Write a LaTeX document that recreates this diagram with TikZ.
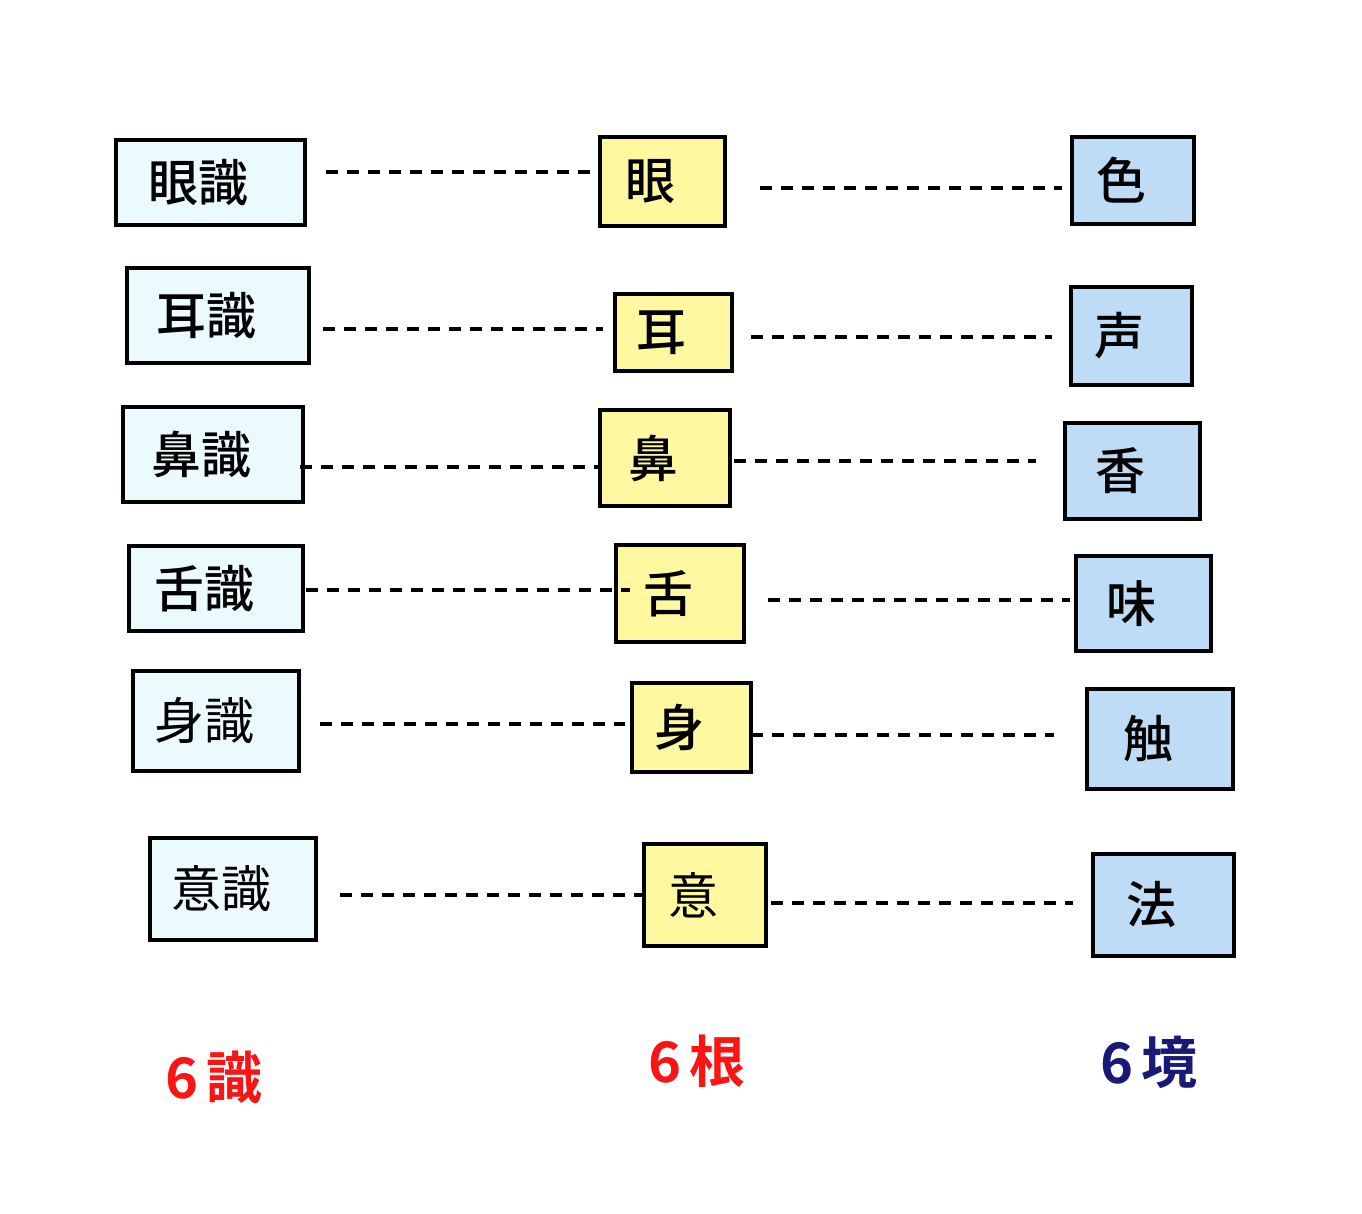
\documentclass[tikz,border=0pt]{standalone}
\usepackage{fontspec}
\setmainfont{Noto Sans CJK JP}[BoldFont={Noto Sans CJK JP Medium}]
\newfontfamily\totalfont{Noto Sans CJK JP Bold}
\definecolor{shikifill}{RGB}{235,250,252}
\definecolor{konfill}{RGB}{255,248,160}
\definecolor{kyofill}{RGB}{190,220,245}
\definecolor{myred}{RGB}{250,20,20}
\definecolor{mynavy}{RGB}{25,25,120}
\newcommand{\boxfont}{\fontsize{25pt}{25pt}\selectfont}
\tikzset{
    box/.style={draw, line width=1.8pt, inner sep=0pt, font=\boxfont\bfseries,
        execute at begin node={\kern-12pt}},
    sz/.style 2 args={minimum width=#1*0.5pt, minimum height=#2*0.5pt},
    shiki/.style={box, fill=shikifill},
    kon/.style={box, fill=konfill},
    kyo/.style={box, fill=kyofill},
    light/.style={font=\boxfont\mdseries},
    link/.style={line width=2pt, dash pattern=on 6pt off 4.5pt},
    total/.style={font=\fontsize{28pt}{28pt}\totalfont}
}

\begin{document}
\begin{tikzpicture}[x=0.5pt, y=-0.5pt]
    \useasboundingbox[fill=white] (0,0) rectangle (1362,1214);

    % 6 shiki
    \node[shiki, sz={189}{85}] (s1) at (210.5,182.5) {眼識};
    \node[shiki, sz={182}{95}] (s2) at (218,315.5) {耳識};
    \node[shiki, sz={180}{95}] (s3) at (213,454.5) {鼻識};
    \node[shiki, sz={174}{85}] (s4) at (216,588.5) {舌識};
    \node[shiki, light, sz={166}{100}] (s5) at (216,721) {身識};
    \node[shiki, light, sz={166}{102}] (s6) at (233,889) {意識};

    % 6 kon
    \node[kon, sz={125}{89}] (k1) at (662.5,181.5) {眼};
    \node[kon, sz={117}{77}] (k2) at (673.5,332.5) {耳};
    \node[kon, sz={130}{96}] (k3) at (665,458) {鼻};
    \node[kon, sz={128}{97}] (k4) at (680,593.5) {舌};
    \node[kon, sz={119}{89}] (k5) at (691.5,727.5) {身};
    \node[kon, light, sz={122}{102}] (k6) at (705,895) {意};

    % 6 kyo
    \node[kyo, sz={122}{87}] (e1) at (1133,180.5) {色};
    \node[kyo, sz={121}{98}] (e2) at (1131.5,336) {声};
    \node[kyo, sz={135}{96}] (e3) at (1132.5,471) {香};
    \node[kyo, sz={135}{95}] (e4) at (1143.5,603.5) {味};
    \node[kyo, sz={146}{100}] (e5) at (1160,739) {触};
    \node[kyo, sz={141}{102}] (e6) at (1163.5,905) {法};

    % dashed links
    \foreach \n/\xa/\xb/\y in {l1/326/597/172, r1/760/1062/188,
                               l2/323/603/329, r2/751/1052/337,
                               l3/300/600/467, r3/734/1036/461,
                               l4/306/630/590, r4/768/1070/600,
                               l5/320/625/724, r5/751/1054/735,
                               l6/340/642/895, r6/771/1073/903} {
        \coordinate (\n-from) at (\xa,\y);
        \coordinate (\n-to) at (\xb,\y);
        \draw[link] (\n-from) -- (\n-to);
    }

    % totals
    \node[total, text=myred] (t-shiki) at (214,1077) {6\hspace{4pt}識};
    \node[total, text=myred] (t-kon) at (697,1061) {6\hspace{4pt}根};
    \node[total, text=mynavy] (t-kyo) at (1149,1062) {6\hspace{4pt}境};
\end{tikzpicture}
\end{document}
